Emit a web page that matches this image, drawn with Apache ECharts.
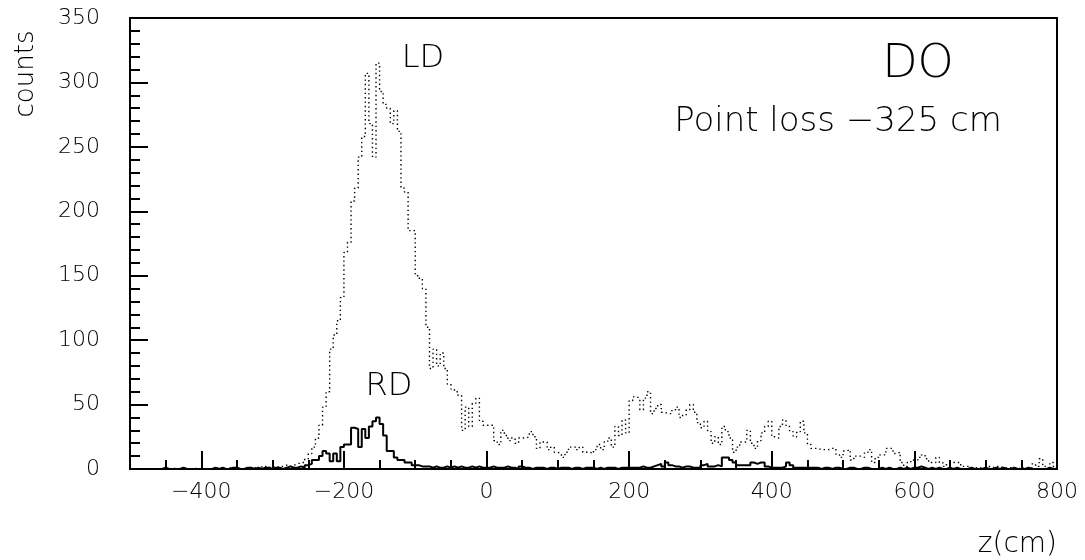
<!DOCTYPE html>
<html>
<head>
<meta charset="utf-8">
<script src="https://cdn.jsdelivr.net/npm/echarts@6/dist/echarts.min.js"></script>
<style>
html,body{margin:0;padding:0;background:#fff;}
#chart{width:1085px;height:560px;}
</style>
</head>
<body>
<div id="chart"></div>
<script>
// Histogram binning (z in cm)
const binStart = -500;
const binWidth = 5;

// LD counts (dotted), 5 cm bins from -500 to 800
const ldCounts = [
  0,0,0,0,0,0,0,0,0,0, 0,0,1,0,0,0,0,0,1,0,
  0,0,0,0,1,0,0,1,0,0, 1,0,1,0,1,1,0,2,1,2,
  1,2,2,3,2,3,4,5,5,8, 12,17,24,34,48,60,93,104,115,133,
  168,176,208,218,242,258,307,268,242,315, 293,283,280,268,278,262,218,215,185,185,
  150,148,140,110,78,93,80,90,78,66, 62,60,57,30,48,33,51,55,37,34,
  34,34,22,19,30,26,22,24,20,24, 24,25,29,25,16,21,21,15,17,13,
  12,9,13,17,17,15,17,13,13,12, 15,19,15,21,24,17,33,26,38,28,
  53,56,55,46,55,60,43,47,50,44, 43,43,46,48,40,42,46,50,44,36,
  32,37,29,20,25,19,33,29,24,13, 17,21,21,30,20,16,22,28,33,37,
  25,24,33,38,33,29,25,29,37,28, 19,16,16,15,15,15,16,16,11,9,
  14,15,7,10,10,9,13,15,5,9, 11,11,16,16,12,13,5,2,5,7,
  7,9,11,8,5,5,9,5,2,4, 5,5,5,2,2,1,1,1,1,1,
  2,1,2,2,1,1,1,1,1,0, 1,0,1,4,2,8,2,1,5,1
];

// RD counts (solid), 5 cm bins from -500 to 800
const rdCounts = [
  0,0,0,0,0,0,0,0,0,1, 0,0,0,0,1,0,0,0,0,0,
  0,0,0,1,0,1,0,0,1,1, 0,0,1,1,0,1,0,1,1,0,
  1,1,0,1,2,1,1,2,1,3, 4,7,7,10,14,12,6,12,6,17,
  19,19,32,31,17,31,24,33,37,40, 35,26,14,14,9,7,7,5,5,3,
  3,2,2,2,1,2,1,1,2,1, 2,1,2,1,1,2,1,2,1,1,
  1,2,1,1,1,2,1,1,0,2, 1,1,0,1,1,1,0,1,1,0,
  1,1,1,0,1,1,0,1,1,1, 0,1,0,1,1,1,0,1,1,1,
  1,1,1,2,1,1,2,3,4,2, 5,3,2,2,1,2,2,1,1,1,
  3,4,2,2,3,2,9,9,7,5, 3,3,3,3,5,4,5,5,2,1,
  1,1,1,2,5,3,1,1,1,1, 1,1,1,0,1,1,0,1,1,0,
  0,1,1,0,0,1,1,0,0,0, 1,0,1,0,0,1,0,1,0,1,
  1,2,1,0,1,0,1,0,0,1, 0,1,0,0,0,1,0,0,0,1,
  0,0,1,0,1,0,0,1,0,0, 0,1,0,0,0,0,0,1,0,0
];

// Axis ticks
const xMajorTicks = [-400, -200, 0, 200, 400, 600, 800];
const xMinorStep = 50;
const yTickLabels = [0, 50, 100, 150, 200, 250, 300, 350];

function toSteps(counts) {
  const d = counts.map((v, i) => [binStart + i * binWidth, v]);
  d.push([binStart + counts.length * binWidth, counts[counts.length - 1]]);
  return d;
}

const FONT = '"DejaVu Sans", "Liberation Sans", sans-serif';
const chart = echarts.init(document.getElementById('chart'), null, {renderer: 'canvas'});

const xMin = binStart, xMax = binStart + ldCounts.length * binWidth;

const option = {
  animation: false,
  backgroundColor: '#ffffff',
  grid: {
    left: 130, right: 28, top: 18, bottom: 91,
    show: true, borderColor: '#000', borderWidth: 2, backgroundColor: 'transparent'
  },
  xAxis: [
    {
      type: 'value', min: xMin, max: xMax,
      axisLine: {show: true, onZero: false, lineStyle: {color: '#000', width: 2}},
      axisTick: {show: true, inside: true, length: 18, customValues: xMajorTicks, lineStyle: {color: '#000', width: 2}},
      axisLabel: {show: true, customValues: xMajorTicks, margin: 12, color: '#000', fontSize: 22, fontFamily: FONT, fontWeight: 200,
        formatter: v => (v < 0 ? '\u2212' + Math.abs(v) : String(v))},
      splitLine: {show: false}
    },
    {
      type: 'value', min: xMin, max: xMax, interval: xMinorStep, position: 'bottom',
      axisLine: {show: false, onZero: false},
      axisTick: {show: true, inside: true, length: 9, lineStyle: {color: '#000', width: 2}},
      axisLabel: {show: false},
      splitLine: {show: false}
    }
  ],
  yAxis: {
    type: 'value', min: yTickLabels[0], max: yTickLabels[yTickLabels.length - 1], interval: 50,
    axisLine: {show: true, onZero: false, lineStyle: {color: '#000', width: 2}},
    axisTick: {show: true, inside: true, length: 18, lineStyle: {color: '#000', width: 2}},
    minorTick: {show: true, splitNumber: 5, length: 10, lineStyle: {color: '#000', width: 2}},
    axisLabel: {margin: 30, color: '#000', fontSize: 22, fontFamily: FONT, fontWeight: 200},
    splitLine: {show: false},
    minorSplitLine: {show: false}
  },
  series: [
    {
      name: 'LD', type: 'line', step: 'end', xAxisIndex: 0,
      data: toSteps(ldCounts), showSymbol: false, symbol: 'none',
      lineStyle: {color: '#000', width: 1.4, type: [1.4, 3]},
      silent: true, z: 3
    },
    {
      name: 'RD', type: 'line', step: 'end', xAxisIndex: 0,
      data: toSteps(rdCounts), showSymbol: false, symbol: 'none',
      lineStyle: {color: '#000', width: 2},
      silent: true, z: 4
    }
  ],
  graphic: [
    {type: 'text', x: 26, y: 74, rotation: Math.PI / 2,
      style: {text: 'counts', fill: '#000', font: '200 26px ' + FONT, textAlign: 'center', textVerticalAlign: 'middle'}},
    {type: 'text', x: 1057, y: 545,
      style: {text: 'z(cm)', fill: '#000', font: '200 28px ' + FONT, textAlign: 'right', textVerticalAlign: 'middle'}},
    {type: 'text', x: 423, y: 59,
      style: {text: 'LD', fill: '#000', font: '200 32px ' + FONT, textAlign: 'center', textVerticalAlign: 'middle'}},
    {type: 'text', x: 389, y: 387,
      style: {text: 'RD', fill: '#000', font: '200 32px ' + FONT, textAlign: 'center', textVerticalAlign: 'middle'}},
    {type: 'text', x: 918, y: 65,
      style: {text: 'DO', fill: '#000', font: '200 46px ' + FONT, textAlign: 'center', textVerticalAlign: 'middle'}},
    {type: 'text', x: 838, y: 122,
      style: {text: 'Point loss \u2212325 cm', fill: '#000', font: '200 34px ' + FONT, textAlign: 'center', textVerticalAlign: 'middle'}}
  ]
};
chart.setOption(option);
</script>
</body>
</html>
